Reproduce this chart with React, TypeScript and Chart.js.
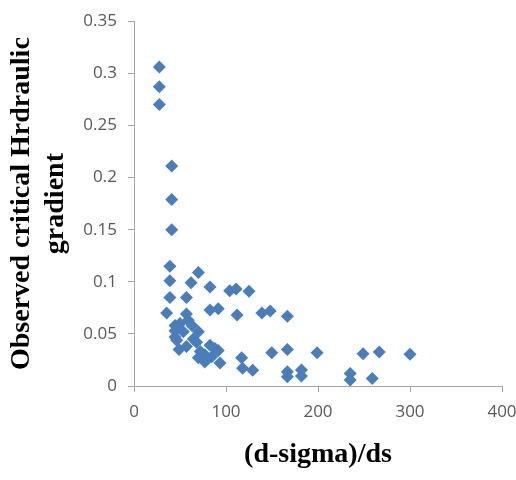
import React, { useEffect, useRef } from "react";
import { Chart, registerables } from "chart.js";

Chart.register(...registerables);

const xValues: number[] = [
  27.5, 27.5, 27.5, 41, 41, 41,
  39, 39, 70, 62, 82.6, 39, 57, 104, 111, 125, 35.5, 82.6, 91.6, 112,
  139, 148, 166.7,
  117, 118, 129, 149.7, 166.7, 199, 249, 266.6, 300,
  166.7, 166.7, 182, 182, 235, 235, 259,
  57, 44.6, 50, 59, 63, 44.6, 53.6, 70, 44.6, 64.5, 46.4, 49, 57, 68, 72, 70, 77, 82.6, 88, 91.6, 84.5, 77, 93.5,
];
const yValues: number[] = [
  0.306, 0.287, 0.27, 0.211, 0.179, 0.15,
  0.115, 0.101, 0.109, 0.099, 0.095, 0.085, 0.085, 0.0915, 0.093, 0.091, 0.07, 0.073, 0.074, 0.068,
  0.07, 0.072, 0.067,
  0.027, 0.017, 0.015, 0.032, 0.035, 0.032, 0.031, 0.0327, 0.0305,
  0.0136, 0.0089, 0.0153, 0.0095, 0.012, 0.0057, 0.0073,
  0.069, 0.058, 0.06, 0.063, 0.058, 0.053, 0.052, 0.052, 0.047, 0.045, 0.044, 0.035, 0.038, 0.042, 0.033, 0.027, 0.03, 0.039, 0.036, 0.034, 0.028, 0.023, 0.022,
];

const xTitle = "(d-sigma)/ds";
const yTitle = ["Observed critical Hrdraulic", "gradient"];

export default function App() {
  const canvasRef = useRef<HTMLCanvasElement | null>(null);

  useEffect(() => {
    if (!canvasRef.current) return;
    const points = xValues.map((x, i) => ({ x, y: yValues[i] }));
    const axisColor = "#a6a6a6";
    const tickFont = { family: "'Open Sans', sans-serif", size: 17 };
    const xTitleFont = { family: "'Liberation Serif', serif", size: 28, weight: "bold" as const, lineHeight: 1.05 };
    const yTitleFont = { family: "'Liberation Serif', serif", size: 28, weight: "bold" as const, lineHeight: 1.2 };
    const chart = new Chart(canvasRef.current, {
      type: "scatter",
      data: {
        datasets: [
          {
            data: points,
            pointStyle: "rectRot",
            pointRadius: 6.5,
            pointHoverRadius: 6.5,
            backgroundColor: "#4A7EBB",
            borderWidth: 0,
          },
        ],
      },
      options: {
        animation: false,
        responsive: false,
        maintainAspectRatio: false,
        layout: { padding: { top: 19, right: 14, left: 0, bottom: 0 } },
        plugins: { legend: { display: false }, tooltip: { enabled: false } },
        scales: {
          x: {
            type: "linear",
            min: 0,
            max: 400,
            ticks: { stepSize: 100, color: "#595959", font: tickFont, padding: 10 },
            grid: { drawOnChartArea: false, drawTicks: true, tickLength: 6, color: axisColor },
            border: { display: true, color: axisColor, width: 1 },
            title: { display: true, text: xTitle, color: "#000", font: xTitleFont, padding: { top: 0, bottom: 11 } },
            afterFit: (scale: any) => {
              scale.height = 94;
              scale.paddingLeft = 0;
              scale.paddingRight = 0;
            },
          },
          y: {
            type: "linear",
            min: 0,
            max: 0.35,
            ticks: {
              stepSize: 0.05,
              color: "#595959",
              font: tickFont,
              padding: 11,
              callback: (v: any) => String(Number(Number(v).toFixed(2))),
            },
            grid: { drawOnChartArea: false, drawTicks: true, tickLength: 6, color: axisColor },
            border: { display: true, color: axisColor, width: 1 },
            title: { display: true, text: yTitle, color: "#000", font: yTitleFont, padding: { top: 5, bottom: 0 } },
            afterFit: (scale: any) => {
              scale.width = 134;
            },
          },
        },
      },
    });
    return () => chart.destroy();
  }, []);

  return (
    <div style={{ position: "fixed", left: 0, top: 0, width: 516, height: 480, background: "#fff" }}>
      <canvas ref={canvasRef} width={516} height={480} style={{ width: 516, height: 480 }} />
    </div>
  );
}
